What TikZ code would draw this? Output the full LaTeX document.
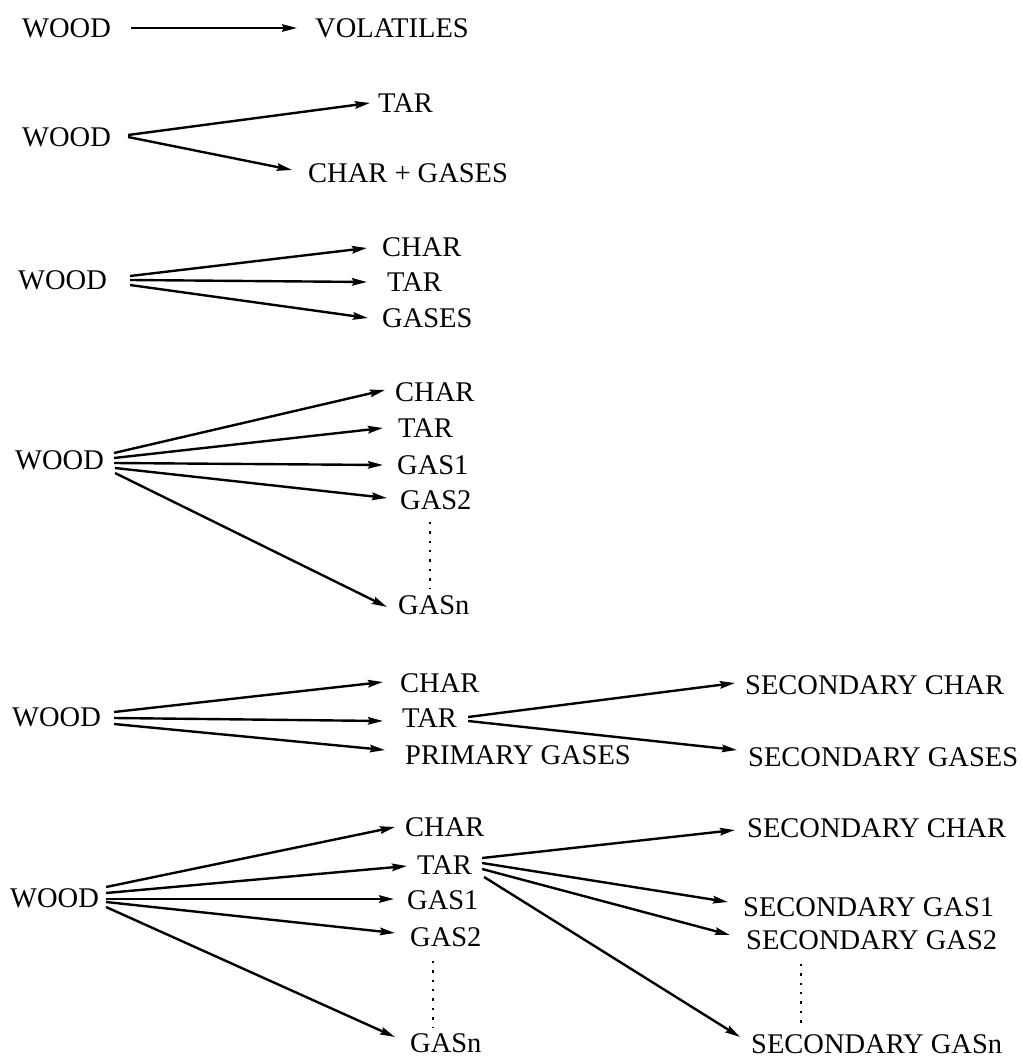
\documentclass[tikz,border=0pt]{standalone}
\usepackage{fontspec}
\setmainfont{Liberation Serif}
\usetikzlibrary{arrows.meta}
\begin{document}
\begin{tikzpicture}[x=1pt,y=-1pt,
  lbl/.style={anchor=west,inner sep=0pt,text height=19pt,text depth=0pt,
              font=\fontsize{28.5}{30}\selectfont},
  arr/.style={line width=2.4pt,-{Stealth[length=15pt,width=7.5pt,inset=2pt,fill=black!55]}},
  dotline/.style={line width=2.4pt,dash pattern=on 2.4pt off 7pt}]
\useasboundingbox (0,0) rectangle (1022,1059);

% scheme 1: single-step volatiles
\node[lbl] (w1) at (22,28) {WOOD};
\node[lbl] (vol1) at (315,28) {VOLATILES};
\draw[arr] ([xshift=20pt]w1.east) -- ([xshift=-18pt]vol1.west);

% scheme 2: tar and char + gases
\node[lbl] (w2) at (22,137) {WOOD};
\node[lbl] (tar2) at (378,103) {TAR};
\node[lbl] (cg2) at (308,173) {CHAR + GASES};
\draw[arr] ([xshift=17pt,yshift=2pt]w2.east) -- ([xshift=-8pt]tar2.west);
\draw[arr] ([xshift=17pt]w2.east) -- ([xshift=-16pt,yshift=3pt]cg2.west);

% scheme 3: three competing products
\node[lbl] (w3) at (18,280) {WOOD};
\node[lbl] (char3) at (382,247) {CHAR};
\node[lbl] (tar3) at (387,282) {TAR};
\node[lbl] (gas3) at (382,318) {GASES};
\draw[arr] ([xshift=23pt,yshift=4pt]w3.east) -- ([xshift=-15pt,yshift=-1pt]char3.west);
\draw[arr] ([xshift=23pt]w3.east) -- ([xshift=-20pt]tar3.west);
\draw[arr] ([xshift=23pt,yshift=-5pt]w3.east) -- ([xshift=-14pt]gas3.west);

% scheme 4: char, tar and n gas species
\node[lbl] (w4) at (15,460) {WOOD};
\node[lbl] (char4) at (395,392) {CHAR};
\node[lbl] (tar4) at (398,428) {TAR};
\node[lbl] (gasa4) at (397,465) {GAS1};
\node[lbl] (gasb4) at (400,500) {GAS2};
\node[lbl] (gasn4) at (398,605) {GASn};
\draw[arr] ([xshift=10pt,yshift=7pt]w4.east) -- ([xshift=-10pt,yshift=2pt]char4.west);
\draw[arr] ([xshift=10pt,yshift=2pt]w4.east) -- ([xshift=-15pt]tar4.west);
\draw[arr] ([xshift=10pt,yshift=-3pt]w4.east) -- ([xshift=-14pt]gasa4.west);
\draw[arr] ([xshift=11pt,yshift=-8pt]w4.east) -- ([xshift=-13pt,yshift=2pt]gasb4.west);
\draw[arr] ([xshift=11pt,yshift=-13pt]w4.east) -- ([xshift=-11pt,yshift=-2pt]gasn4.west);
\draw[dotline] ([xshift=32pt,yshift=-12pt]gasn4.north west |- gasb4.south) -- ([xshift=32pt,yshift=6pt]gasn4.north west);

% scheme 5: primary products with secondary tar cracking
\node[lbl] (w5) at (12,717) {WOOD};
\node[lbl] (char5) at (400,683) {CHAR};
\node[lbl] (tar5) at (402,718) {TAR};
\node[lbl] (pg5) at (405,755) {PRIMARY GASES};
\node[lbl] (sc5) at (745,685) {SECONDARY CHAR};
\node[lbl] (sg5) at (748,757) {SECONDARY GASES};
\draw[arr] ([xshift=13pt,yshift=5pt]w5.east) -- ([xshift=-17pt,yshift=1pt]char5.west);
\draw[arr] ([xshift=13pt,yshift=-1pt]w5.east) -- ([xshift=-19pt,yshift=-3pt]tar5.west);
\draw[arr] ([xshift=13pt,yshift=-7pt]w5.east) -- ([xshift=-20pt,yshift=5pt]pg5.west);
\draw[arr] ([xshift=11pt,yshift=1pt]tar5.east) -- ([xshift=-10pt,yshift=2pt]sc5.west);
\draw[arr] ([xshift=11pt,yshift=-3pt]tar5.east) -- ([xshift=-11pt,yshift=7pt]sg5.west);

% scheme 6: primary species with secondary species from tar
\node[lbl] (w6) at (10,898) {WOOD};
\node[lbl] (char6) at (405,827) {CHAR};
\node[lbl] (tar6) at (417,865) {TAR};
\node[lbl] (gasa6) at (407,900) {GAS1};
\node[lbl] (gasb6) at (410,937) {GAS2};
\node[lbl] (gasn6) at (410,1043) {GASn};
\node[lbl] (sc6) at (747,828) {SECONDARY CHAR};
\node[lbl] (sga6) at (743,907) {SECONDARY GAS1};
\node[lbl] (sgb6) at (746,940) {SECONDARY GAS2};
\node[lbl] (sgn6) at (751,1044) {SECONDARY GASn};
\draw[arr] ([xshift=7pt,yshift=11pt]w6.east) -- ([xshift=-10pt,yshift=0pt]char6.west);
\draw[arr] ([xshift=7pt,yshift=5pt]w6.east) -- ([xshift=-10pt,yshift=-1pt]tar6.west);
\draw[arr] ([xshift=7pt,yshift=-1pt]w6.east) -- ([xshift=-13pt,yshift=1pt]gasa6.west);
\draw[arr] ([xshift=7pt,yshift=-4pt]w6.east) -- ([xshift=-15pt,yshift=4pt]gasb6.west);
\draw[arr] ([xshift=7pt,yshift=-9pt]w6.east) -- ([xshift=-15pt,yshift=6pt]gasn6.west);
\draw[arr] ([xshift=10pt,yshift=7pt]tar6.east) -- ([xshift=-12pt,yshift=-2pt]sc6.west);
\draw[arr] ([xshift=10pt,yshift=2pt]tar6.east) -- ([xshift=-15pt,yshift=5pt]sga6.west);
\draw[arr] ([xshift=10pt,yshift=-4pt]tar6.east) -- ([xshift=-16pt,yshift=5pt]sgb6.west);
\draw[arr] ([xshift=12pt,yshift=-12pt]tar6.east) -- ([xshift=-11pt,yshift=7pt]sgn6.west);
\draw[dotline] ([xshift=23pt,yshift=-14pt]gasn6.north west |- gasb6.south) -- ([xshift=23pt,yshift=6pt]gasn6.north west);
\draw[dotline] ([xshift=50pt,yshift=-14pt]sgn6.north west |- sgb6.south) -- ([xshift=50pt,yshift=6pt]sgn6.north west);
\end{tikzpicture}
\end{document}
